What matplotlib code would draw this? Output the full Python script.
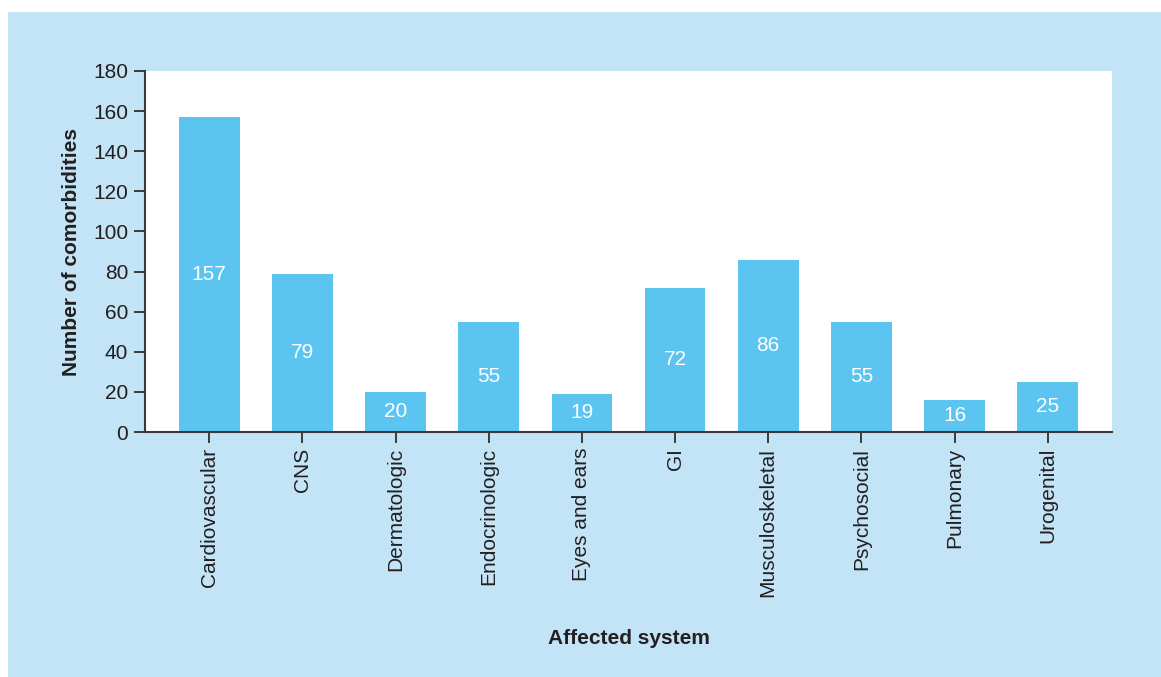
import matplotlib.pyplot as plt
from matplotlib.patches import Rectangle

# data
systems = ['Cardiovascular', 'CNS', 'Dermatologic', 'Endocrinologic', 'Eyes and ears',
           'GI', 'Musculoskeletal', 'Psychosocial', 'Pulmonary', 'Urogenital']
counts = [157, 79, 20, 55, 19, 72, 86, 55, 16, 25]
y_ticks = [0, 20, 40, 60, 80, 100, 120, 140, 160, 180]

panel_color = '#c2e4f6'
bar_color = '#5bc4f1'
text_color = '#231f20'

plt.rcParams['font.family'] = ['Liberation Sans', 'DejaVu Sans']

fig = plt.figure(figsize=(11.61, 6.77), dpi=100, facecolor='white')
# light blue panel behind the chart
fig.patches.append(Rectangle((8 / 1161, 0), 1 - 8 / 1161, 665 / 677,
                             transform=fig.transFigure, facecolor=panel_color,
                             edgecolor='none', zorder=-10))

ax = fig.add_axes([145 / 1161, 245 / 677, 967 / 1161, 361 / 677])
ax.set_facecolor('white')

bars = ax.bar(range(len(systems)), counts, width=0.65, color=bar_color, zorder=2)
ax.bar_label(bars, label_type='center', color='white', fontsize=15)

ax.set_xlim(-0.69, len(systems) - 1 + 0.69)
ax.set_ylim(0, 180)
ax.set_yticks(y_ticks)
ax.set_xticks(range(len(systems)))
ax.set_xticklabels(systems, rotation=90)

for side in ['top', 'right']:
    ax.spines[side].set_visible(False)
for side in ['left', 'bottom']:
    ax.spines[side].set_color('#3a3a3a')
    ax.spines[side].set_linewidth(1.5)

ax.tick_params(axis='both', direction='out', length=8, width=1.4, color='#3a3a3a',
               labelsize=15, labelcolor=text_color)
ax.tick_params(axis='x', pad=3.5)
ax.tick_params(axis='y', pad=4)

ax.set_xlabel('Affected system', fontsize=15, fontweight='bold', color=text_color, va='center')
ax.xaxis.set_label_coords(0.5, -0.571)
ax.set_ylabel('Number of comorbidities', fontsize=15, fontweight='bold', color=text_color, va='center')
ax.yaxis.set_label_coords(-0.0755, 0.5)

plt.savefig('out.png', dpi=100, facecolor='white')
